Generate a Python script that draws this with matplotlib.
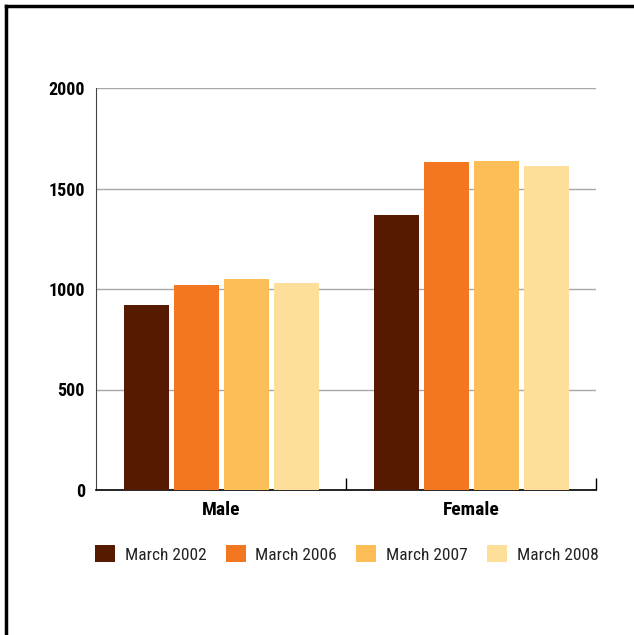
import matplotlib.pyplot as plt
import numpy as np
from matplotlib.lines import Line2D
from matplotlib.patches import Patch

# Counts per group and survey date
groups = ["Male", "Female"]
series = ["March 2002", "March 2006", "March 2007", "March 2008"]
march_2002 = [920, 1370]
march_2006 = [1020, 1630]
march_2007 = [1050, 1635]
march_2008 = [1030, 1610]
values = [march_2002, march_2006, march_2007, march_2008]
colors = ["#561A00", "#F37721", "#FDBE57", "#FEDF99"]
yticks = [0, 500, 1000, 1500, 2000]

font = ["Roboto Condensed", "Barlow Condensed", "DejaVu Sans"]

fig = plt.figure(figsize=(6.34, 6.35), dpi=100)
ax = fig.add_axes([96 / 634, 1 - 490 / 635, 500 / 634, 402 / 635])

# Outer frame (top and left edges)
fig.add_artist(Line2D([6 / 634, 6 / 634], [0, 1 - 6 / 635], transform=fig.transFigure,
                      color="black", lw=2.5))
fig.add_artist(Line2D([6 / 634, 1], [1 - 6 / 635, 1 - 6 / 635], transform=fig.transFigure,
                      color="black", lw=2.5))

x = np.arange(len(groups))
width = 0.18
step = 0.2
for i, (vals, c) in enumerate(zip(values, colors)):
    ax.bar(x + (i - 1.5) * step, vals, width=width, color=c, zorder=3)

ax.set_xlim(-0.5, 1.5)
ax.set_ylim(0, 2000)
ax.set_yticks(yticks)
ax.set_yticklabels([str(t) for t in yticks], family=font, fontweight="bold", fontsize=13)
ax.yaxis.grid(True, color="#A8A8A8", lw=1, zorder=0)
ax.tick_params(axis="y", length=0, pad=8)

ax.set_xticks(x)
ax.set_xticklabels(groups, family=font, fontweight="bold", fontsize=14)
ax.tick_params(axis="x", length=0, pad=8)
ax.set_xticks([0.5, 1.5], minor=True)
ax.tick_params(axis="x", which="minor", direction="in", length=9, width=1, color="black")

for s in ["top", "right"]:
    ax.spines[s].set_visible(False)
ax.spines["left"].set_color("#444444")
ax.spines["bottom"].set_color("black")
ax.spines["bottom"].set_linewidth(1.2)

handles = [Patch(facecolor=c, edgecolor="none") for c in colors]
fig.legend(handles, series, loc="center left", bbox_to_anchor=(95 / 634, 1 - 554 / 635),
           ncol=4, frameon=False, prop={"family": font, "size": 12.5},
           borderaxespad=0, borderpad=0, labelcolor="#222222",
           handlelength=1.15, handleheight=1.15, handletextpad=0.55, columnspacing=1.12)

fig.savefig("out.png", dpi=100)
